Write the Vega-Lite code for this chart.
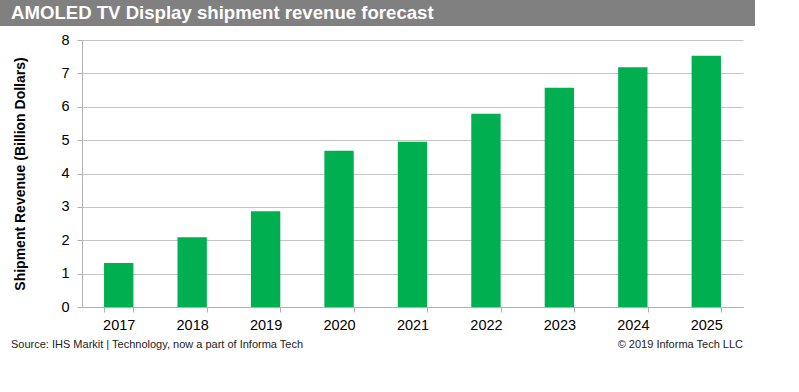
{
  "$schema": "https://vega.github.io/schema/vega-lite/v6.json",
  "padding": 0,
  "background": "white",
  "spacing": 6,
  "title": {
    "text": "© 2019 Informa Tech LLC",
    "orient": "bottom",
    "anchor": "end",
    "dx": -12,
    "offset": -13,
    "baseline": "alphabetic",
    "fontSize": 11,
    "font": "Liberation Sans",
    "fontWeight": "normal",
    "color": "#222222"
  },
  "vconcat": [
    {
      "width": 755,
      "height": 26,
      "data": {"values": [{}]},
      "mark": {"type": "text", "text": ""},
      "encoding": {},
      "view": {"fill": "#808080", "stroke": null},
      "title": {
        "text": "AMOLED TV Display shipment revenue forecast",
        "orient": "bottom",
        "anchor": "start",
        "dx": 11,
        "offset": -7,
        "baseline": "alphabetic",
        "fontSize": 18.6,
        "fontWeight": "bold",
        "color": "#ffffff",
        "font": "Liberation Sans"
      }
    },
    {
      "spacing": 0,
      "hconcat": [
        {
          "width": 13,
          "height": 1,
          "data": {"values": [{}]},
          "mark": {"type": "text", "text": ""},
          "encoding": {},
          "view": {"stroke": null}
        },
        {
          "width": 661,
          "height": 267,
          "data": {
            "values": [
              {"year": "2017", "revenue": 1.32},
              {"year": "2018", "revenue": 2.09},
              {"year": "2019", "revenue": 2.87},
              {"year": "2020", "revenue": 4.68},
              {"year": "2021", "revenue": 4.95},
              {"year": "2022", "revenue": 5.79},
              {"year": "2023", "revenue": 6.57},
              {"year": "2024", "revenue": 7.18},
              {"year": "2025", "revenue": 7.53}
            ]
          },
          "mark": {"type": "bar", "color": "#00B050"},
          "encoding": {
            "x": {
              "field": "year",
              "type": "ordinal",
              "scale": {"paddingInner": 0.6, "paddingOuter": 0.3},
              "axis": {
                "title": null,
                "labelAngle": 0,
                "labelFontSize": 14.5,
                "labelColor": "#000000",
                "labelPadding": 6,
                "tickBand": "extent",
                "tickSize": 5,
                "tickColor": "#b0b0b0",
                "domainColor": "#b0b0b0",
                "grid": false
              }
            },
            "y": {
              "field": "revenue",
              "type": "quantitative",
              "scale": {"domain": [0, 8], "nice": false},
              "axis": {
                "title": "Shipment Revenue (Billion Dollars)",
                "titleFontSize": 14,
                "titleFontWeight": "bold",
                "titleColor": "#000000",
                "titlePadding": 33,
                "values": [0, 1, 2, 3, 4, 5, 6, 7, 8],
                "labelFontSize": 14.5,
                "labelColor": "#000000",
                "labelPadding": 8,
                "tickSize": 5,
                "tickColor": "#b0b0b0",
                "domainColor": "#b0b0b0",
                "gridColor": "#c4c4c4",
                "grid": true
              }
            }
          },
          "view": {"stroke": null}
        }
      ]
    },
    {
      "width": 755,
      "height": 1,
      "data": {"values": [{}]},
      "mark": {"type": "text", "text": ""},
      "encoding": {},
      "view": {"stroke": null},
      "title": {
        "text": "Source: IHS Markit | Technology, now a part of Informa Tech",
        "orient": "top",
        "anchor": "start",
        "dx": 11,
        "offset": 0,
        "baseline": "top",
        "fontSize": 11,
        "font": "Liberation Sans",
        "fontWeight": "normal",
        "color": "#222222"
      }
    }
  ],
  "config": {
    "font": "Liberation Sans",
    "axis": {"labelFont": "Liberation Sans", "titleFont": "Liberation Sans"}
  }
}
